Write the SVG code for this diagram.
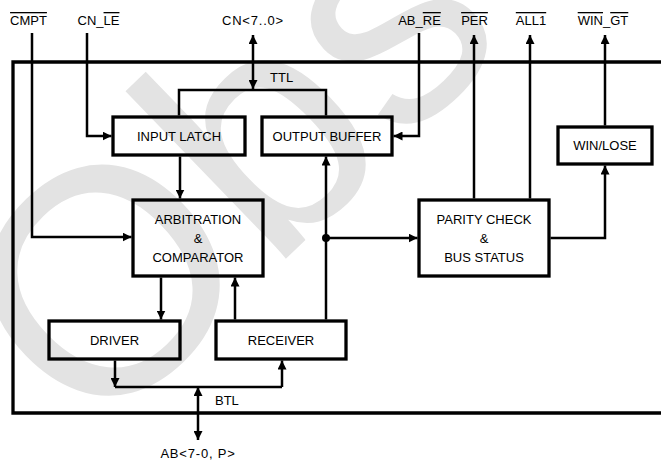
<svg xmlns="http://www.w3.org/2000/svg" width="661" height="465" viewBox="0 0 661 465">
<style>
.wm{font-family:"Liberation Sans",Arial,sans-serif;font-size:320px;fill:#e3e3e3}
.box{fill:none;stroke:#000;stroke-width:3.3}
.ln{fill:none;stroke:#000;stroke-width:2.5}
.frame{fill:none;stroke:#000;stroke-width:3.3}
.t{font-family:"Liberation Sans",Arial,sans-serif;font-size:13px;fill:#000;text-anchor:middle}
.ts{font-family:"Liberation Sans",Arial,sans-serif;font-size:13px;fill:#000}
.ov{text-decoration:overline}
</style>
<defs>
<marker id="ah" viewBox="0 0 10 10" refX="10" refY="5" markerWidth="9" markerHeight="9" markerUnits="userSpaceOnUse" orient="auto-start-reverse">
<path d="M0,0 L10,5 L0,10 z" fill="#000"/>
</marker>
</defs>
<rect width="661" height="465" fill="#fff"/>
<text class="wm" transform="translate(92,446) rotate(-44)">Obs</text>

<path class="frame" d="M665,62 H13 V413 H665"/>

<g id="labels">
<text class="t" x="28.5" y="25"><tspan class="ov">CMPT</tspan></text>
<text class="t" x="98.5" y="25">CN_<tspan class="ov">LE</tspan></text>
<text class="t" x="253" y="25" letter-spacing="0.8">CN&lt;7..0&gt;</text>
<text class="t" x="419.5" y="25">AB_<tspan class="ov">RE</tspan></text>
<text class="t" x="474.5" y="25"><tspan class="ov">PER</tspan></text>
<text class="t" x="531" y="25"><tspan class="ov">ALL1</tspan></text>
<text class="t" x="603" y="25"><tspan class="ov">WIN</tspan>_<tspan class="ov">GT</tspan></text>
<text class="ts" x="270" y="82">TTL</text>
<text class="ts" x="215" y="405">BTL</text>
<text class="t" x="198" y="458" letter-spacing="0.8">AB&lt;7-0, P&gt;</text>
</g>

<g id="input-latch">
<rect class="box" x="113" y="117" width="132" height="38"/>
<text class="t" x="179" y="141">INPUT LATCH</text>
</g>
<g id="output-buffer">
<rect class="box" x="262" y="117" width="130" height="38"/>
<text class="t" x="327" y="141">OUTPUT BUFFER</text>
</g>
<g id="arbitration">
<rect class="box" x="133" y="200" width="130" height="76"/>
<text class="t" x="198" y="224">ARBITRATION</text>
<text class="t" x="198" y="243">&amp;</text>
<text class="t" x="198" y="262">COMPARATOR</text>
</g>
<g id="parity">
<rect class="box" x="419" y="200" width="130" height="76"/>
<text class="t" x="484" y="224">PARITY CHECK</text>
<text class="t" x="484" y="243">&amp;</text>
<text class="t" x="484" y="262">BUS STATUS</text>
</g>
<g id="win-lose">
<rect class="box" x="558" y="127" width="94" height="37"/>
<text class="t" x="605" y="150">WIN/LOSE</text>
</g>
<g id="driver">
<rect class="box" x="49" y="321" width="131" height="38"/>
<text class="t" x="114.5" y="345">DRIVER</text>
</g>
<g id="receiver">
<rect class="box" x="216" y="321" width="130" height="38"/>
<text class="t" x="281" y="345">RECEIVER</text>
</g>

<g id="connectors">
<path class="ln" d="M32,33 V237 H131.5" marker-end="url(#ah)"/>
<path class="ln" d="M87,33 V136 H111.5" marker-end="url(#ah)"/>
<path class="ln" d="M253,35 V89" marker-start="url(#ah)" marker-end="url(#ah)"/>
<path class="ln" d="M179,115.5 V90 H326 V115.5"/>
<path class="ln" d="M419,33 V136 H393.5" marker-end="url(#ah)"/>
<path class="ln" d="M180,156.5 V198.5" marker-end="url(#ah)"/>
<path class="ln" d="M161,277.5 V319.5" marker-end="url(#ah)"/>
<path class="ln" d="M235,319.5 V277.5" marker-end="url(#ah)"/>
<path class="ln" d="M326,319.5 V156.5" marker-end="url(#ah)"/>
<circle cx="326" cy="238" r="4" fill="#000"/>
<path class="ln" d="M326,238 H417.5" marker-end="url(#ah)"/>
<path class="ln" d="M474,198.5 V35" marker-end="url(#ah)"/>
<path class="ln" d="M530,198.5 V35" marker-end="url(#ah)"/>
<path class="ln" d="M550.5,238 H605 V165.5" marker-end="url(#ah)"/>
<path class="ln" d="M605,125.5 V35" marker-end="url(#ah)"/>
<path class="ln" d="M115,360.5 V387" marker-end="url(#ah)"/>
<path class="ln" d="M115,387 H282"/>
<path class="ln" d="M282,387 V360.5" marker-end="url(#ah)"/>
<path class="ln" d="M198,387 V440" marker-start="url(#ah)" marker-end="url(#ah)"/>
</g>
</svg>
